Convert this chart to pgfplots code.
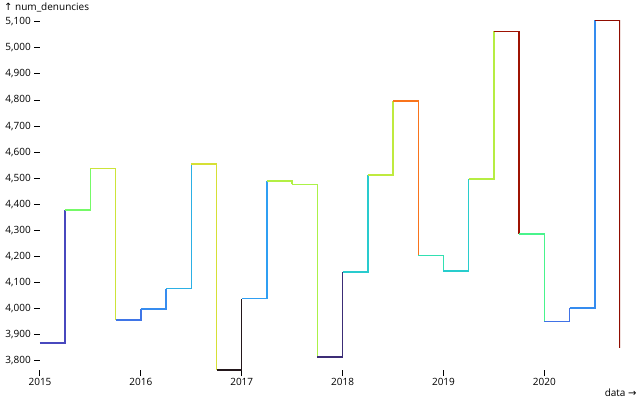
\documentclass[border=0pt]{standalone}
\usepackage{pgfplots}
\pgfplotsset{compat=1.18}
\usepackage{fontspec}
\setmainfont{Open Sans}
\newfontfamily\arrowfont{DejaVu Sans}

% one step: value y1 at x1 held until x2, then jump to y2; colour = turbo position of y1 (0..1000)
\newcommand\step[5]{\addplot[const plot, line width=1.5pt, color of colormap={#5}] coordinates {(#1,#2) (#3,#4)};}

\begin{document}
\begin{tikzpicture}[x=1pt,y=1pt]
\path[use as bounding box] (0,0) rectangle (640,400);
\begin{axis}[
    at={(40pt,30pt)}, anchor=south west,
    scale only axis, width=580pt, height=350pt,
    xmin=2015, xmax=2020.75, ymin=3764, ymax=5107,
    axis x line*=bottom, axis y line*=left,
    axis line style={draw=none},
    tick align=outside, major tick length=6pt,
    tick style={black, line width=1pt},
    xtick={2015,2016,2017,2018,2019,2020},
    ytick={3800,3900,...,5100},
    font=\fontsize{10}{12}\selectfont,
    /pgf/number format/assume math mode=true,
    xticklabel style={anchor=base, inner sep=0pt, yshift=-9.7pt, /pgf/number format/1000 sep={}},
    yticklabel style={anchor=east, inner sep=0pt, xshift=-3pt, /pgf/number format/1000 sep={,}},
    colormap={turbo}{rgb255(0cm)=(35,23,27) rgb255(0.5cm)=(70,54,153)
      rgb255(1cm)=(74,88,221) rgb255(2cm)=(47,157,245) rgb255(3cm)=(39,215,196)
      rgb255(4cm)=(77,248,132) rgb255(5cm)=(149,251,81) rgb255(6cm)=(222,221,50)
      rgb255(7cm)=(255,164,35) rgb255(8cm)=(246,95,24) rgb255(9cm)=(186,34,8)
      rgb255(10cm)=(144,12,0)},
    xlabel={data {\arrowfont→}},
    ylabel={{\arrowfont↑} num\_denuncies},
    every axis x label/.style={at={(rel axis cs:1,0)}, anchor=base east, inner sep=0pt, xshift=16.7pt, yshift=-26.5pt},
    every axis y label/.style={at={(rel axis cs:0,1)}, anchor=base west, inner sep=0pt, xshift=-36pt, yshift=10pt},
]
\step{2015.00}{3868}{2015.25}{4377}{77}
\step{2015.25}{4377}{2015.50}{4537}{456}
\step{2015.50}{4537}{2015.75}{3955}{576}
\step{2015.75}{3955}{2016.00}{3999}{142}
\step{2016.00}{3999}{2016.25}{4076}{175}
\step{2016.25}{4076}{2016.50}{4555}{232}
\step{2016.50}{4555}{2016.75}{3764}{589}
\step{2016.75}{3764}{2017.00}{4038}{0}
\step{2017.00}{4038}{2017.25}{4490}{204}
\step{2017.25}{4490}{2017.50}{4476}{541}
\step{2017.50}{4476}{2017.75}{3813}{530}
\step{2017.75}{3813}{2018.00}{4140}{36}
\step{2018.00}{4140}{2018.25}{4512}{280}
\step{2018.25}{4512}{2018.50}{4797}{557}
\step{2018.50}{4797}{2018.75}{4204}{769}
\step{2018.75}{4204}{2019.00}{4143}{328}
\step{2019.00}{4143}{2019.25}{4496}{282}
\step{2019.25}{4496}{2019.50}{5063}{545}
\step{2019.50}{5063}{2019.75}{4285}{967}
\step{2019.75}{4285}{2020.00}{3950}{388}
\step{2020.00}{3950}{2020.25}{4001}{138}
\step{2020.25}{4001}{2020.50}{5107}{176}
\step{2020.50}{5107}{2020.75}{3849}{1000}
\end{axis}
\end{tikzpicture}
\end{document}
